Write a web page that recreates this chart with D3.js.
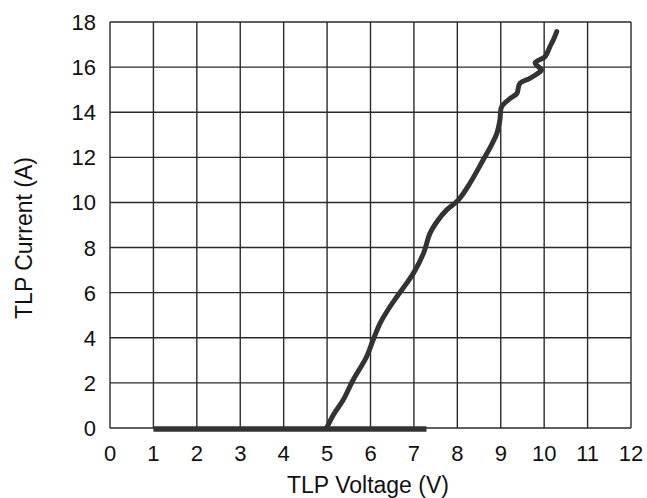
<!DOCTYPE html>
<html><head><meta charset="utf-8">
<script src="https://cdn.jsdelivr.net/npm/d3@7"></script>
<style>body{margin:0;background:#fff}svg{display:block}text{font-family:"Liberation Sans",Arial,sans-serif;fill:#111}</style>
</head><body><svg id="c" width="647" height="498"></svg>
<script>
const xTicks = [0,1,2,3,4,5,6,7,8,9,10,11,12];
const yTicks = [0,2,4,6,8,10,12,14,16,18];
// rising branch: voltage (V), current (A)
const riseV = [4.99,5.15,5.37,5.6,5.91,6.06,6.22,6.45,6.62,6.83,7.0,7.22,7.37,7.55,7.75,8.02,8.29,8.6,8.8,8.91,8.98,9.02,9.21,9.37,9.44,9.67,9.9,9.94,9.79,10.02,10.13,10.21,10.29];
const riseA = [0,0.6,1.24,2.13,3.16,3.9,4.64,5.38,5.85,6.41,6.9,7.74,8.63,9.2,9.66,10.1,10.85,11.9,12.6,13.06,13.65,14.24,14.6,14.83,15.28,15.5,15.79,15.87,16.19,16.46,16.9,17.2,17.57];
// flat (off-state) branch
const flatV = [1.0,7.29];
const flatA = [0,0];

const svg = d3.select("#c");
const x = d3.scaleLinear().domain([0,12]).range([110,631]);
const y = d3.scaleLinear().domain([0,18]).range([428,22]);
const g = svg.append("g");
g.selectAll("line.vx").data(xTicks).join("line")
  .attr("x1",d=>x(d)).attr("x2",d=>x(d)).attr("y1",y(0)).attr("y2",y(18))
  .attr("stroke","#2a2a2a").attr("stroke-width",1.4);
g.selectAll("line.hy").data(yTicks).join("line")
  .attr("y1",d=>y(d)).attr("y2",d=>y(d)).attr("x1",x(0)).attr("x2",x(12))
  .attr("stroke","#2a2a2a").attr("stroke-width",1.4);
g.selectAll("text.xt").data(xTicks).join("text")
  .attr("x",d=>x(d)).attr("y",461).attr("text-anchor","middle").attr("font-size",22).text(d=>d);
g.selectAll("text.yt").data(yTicks).join("text")
  .attr("x",96).attr("y",d=>y(d)+8).attr("text-anchor","end").attr("font-size",22).text(d=>d);
svg.append("text").attr("x",368).attr("y",493).attr("text-anchor","middle").attr("font-size",23).text("TLP Voltage (V)");
svg.append("text").attr("transform","translate(32,238) rotate(-90)").attr("text-anchor","middle").attr("font-size",23).text("TLP Current (A)");
const line = d3.line().x(d=>x(d[0])).y(d=>y(d[1])).curve(d3.curveCatmullRom.alpha(0.5));
svg.append("path").datum(flatV.map((v,i)=>[v,flatA[i]])).attr("d",line)
  .attr("fill","none").attr("stroke","#333").attr("stroke-width",5.5).attr("transform","translate(0,1)");
svg.append("path").datum(riseV.map((v,i)=>[v,riseA[i]])).attr("d",line)
  .attr("fill","none").attr("stroke","#333").attr("stroke-width",5).attr("stroke-linejoin","round").attr("stroke-linecap","round");
</script></body></html>
